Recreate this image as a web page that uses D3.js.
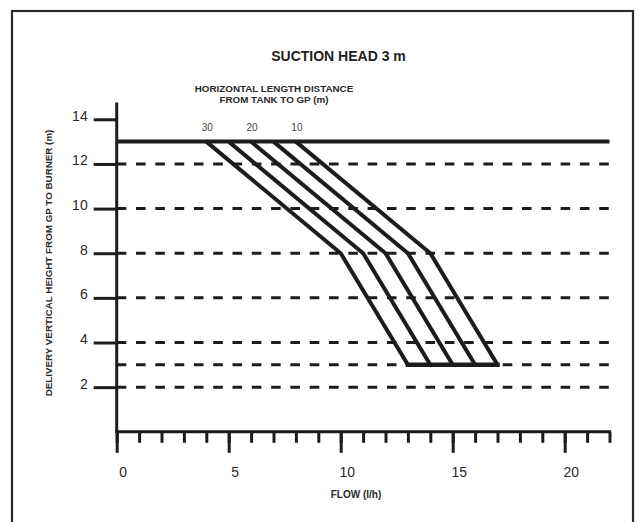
<!DOCTYPE html>
<html>
<head>
<meta charset="utf-8">
<script src="https://cdn.jsdelivr.net/npm/d3@7"></script>
<style>
  html, body { margin: 0; padding: 0; background: #fff; }
  svg { display: block; font-family: "Liberation Sans", Arial, sans-serif; }
</style>
</head>
<body>
<svg id="chart" width="641" height="522"></svg>
<script>
// ---- data ----
const title = "SUCTION HEAD 3 m";
const xTitle = "FLOW (l/h)";
const yTitle = "DELIVERY VERTICAL HEIGHT FROM GP TO BURNER (m)";
const legendTitle = ["HORIZONTAL LENGTH DISTANCE", "FROM TANK TO GP (m)"];
const distances = [30, 25, 20, 15, 10];          // horizontal length (m), one curve each
const distanceLabels = ["30", "", "20", "", "10"];
const curveHeights = [13, 8, 3];                  // delivery height (m) at each vertex
const flowAtTop = [4, 5, 6, 7, 8];                // flow (l/h) at 13 m
const flowAtKnee = [10, 11, 12, 13, 14];          // flow (l/h) at 8 m
const flowAtBase = [13, 14, 15, 16, 17];          // flow (l/h) at 3 m
const solidHeight = 13;
const dashedHeights = [12, 10, 8, 6, 4, 3, 2];
const yTickValues = [2, 4, 6, 8, 10, 12, 14];
const xMajorTicks = [0, 5, 10, 15, 20];
const xMinorTicks = d3.range(0, 23);
const xDomain = [0, 22];
const yDomain = [0, 14];

// ---- drawing ----
const svg = d3.select("#chart");
const ink = "#1c1c1c";
const textCol = "#2a2a2a";

// frame
svg.append("rect").attr("x", 12).attr("y", 11).attr("width", 621).attr("height", 530)
  .attr("fill", "none").attr("stroke", "#2a2a2a").attr("stroke-width", 2.2);

const x = d3.scaleLinear().domain(xDomain).range([116.7, 609.5]);
const y = d3.scaleLinear().domain(yDomain).range([431.8, 119.3]);

// dashed grid lines
svg.append("g").selectAll("line").data(dashedHeights).join("line")
  .attr("x1", x(0)).attr("x2", x(22))
  .attr("y1", d => y(d)).attr("y2", d => y(d))
  .attr("stroke", ink).attr("stroke-width", 3).attr("stroke-dasharray", "9.6,9.7");

// solid line at 13 m
svg.append("line").attr("x1", x(0)).attr("x2", x(22))
  .attr("y1", y(solidHeight)).attr("y2", y(solidHeight))
  .attr("stroke", ink).attr("stroke-width", 4);

// x axis: minor ticks
const xMinor = d3.axisBottom(x).tickValues(xMinorTicks).tickSize(11).tickFormat("");
const gxMinor = svg.append("g").attr("transform", `translate(0,${y(0)})`).call(xMinor);
gxMinor.select(".domain").remove();
gxMinor.selectAll("line").attr("stroke", ink).attr("stroke-width", 3);

// x axis: major ticks with labels
const xMajor = d3.axisBottom(x).tickValues(xMajorTicks).tickSize(21).tickPadding(14).tickFormat(d3.format("d"));
const gxMajor = svg.append("g").attr("transform", `translate(0,${y(0)})`).call(xMajor);
gxMajor.select(".domain").remove();
gxMajor.selectAll("line").attr("stroke", ink).attr("stroke-width", 3);
gxMajor.selectAll("text").attr("font-size", 14).attr("fill", textCol)
  .attr("font-family", "'Liberation Sans', Arial, sans-serif").attr("dx", 6);

// x axis line
svg.append("line").attr("x1", x(0)).attr("x2", x(22)).attr("y1", y(0)).attr("y2", y(0))
  .attr("stroke", ink).attr("stroke-width", 3).attr("stroke-linecap", "square");

// y axis
const yAxis = d3.axisLeft(y).tickValues(yTickValues).tickSize(23).tickPadding(6).tickFormat(d3.format("d"));
const gy = svg.append("g").attr("transform", `translate(${x(0)},0)`).call(yAxis);
gy.select(".domain").remove();
gy.selectAll("line").attr("stroke", ink).attr("stroke-width", 3);
gy.selectAll("text").attr("font-size", 14).attr("fill", textCol)
  .attr("font-family", "'Liberation Sans', Arial, sans-serif").attr("dy", "0.07em");

// y axis line
svg.append("line").attr("x1", x(0)).attr("x2", x(0)).attr("y1", y(14.75)).attr("y2", y(0))
  .attr("stroke", ink).attr("stroke-width", 3);

// curves
const curves = distances.map((d, i) => ({
  dist: d,
  label: distanceLabels[i],
  pts: [flowAtTop[i], flowAtKnee[i], flowAtBase[i]].map((f, j) => [f, curveHeights[j]])
}));
const line = d3.line().x(d => x(d[0])).y(d => y(d[1]));
svg.append("g").selectAll("path").data(curves).join("path")
  .attr("d", c => line(c.pts))
  .attr("fill", "none").attr("stroke", ink).attr("stroke-width", 4)
  .attr("stroke-linejoin", "miter");

// base segment joining curve ends at 3 m
svg.append("path")
  .attr("d", line([[d3.min(flowAtBase), curveHeights[2]], [d3.max(flowAtBase), curveHeights[2]]]))
  .attr("fill", "none").attr("stroke", ink).attr("stroke-width", 4.5).attr("stroke-linecap", "square");

// curve labels
svg.append("g").selectAll("text").data(curves.filter(c => c.label)).join("text")
  .attr("x", c => x(c.pts[0][0]) + 1).attr("y", 130.7)
  .attr("text-anchor", "middle").attr("font-size", 10).attr("fill", "#444")
  .text(c => c.label);

// titles
svg.append("text").attr("x", 338.5).attr("y", 60.7).attr("text-anchor", "middle")
  .attr("font-size", 14).attr("font-weight", "bold").attr("fill", "#222").text(title);

svg.append("g").selectAll("text").data(legendTitle).join("text")
  .attr("x", 274).attr("y", (d, i) => 91.7 + i * 11.6).attr("text-anchor", "middle")
  .attr("font-size", 9.8).attr("font-weight", "bold").attr("fill", textCol).text(d => d);

svg.append("text").attr("x", 356).attr("y", 497.7).attr("text-anchor", "middle")
  .attr("font-size", 10).attr("font-weight", "bold").attr("fill", textCol).text(xTitle);

svg.append("text").attr("transform", "translate(51.5,263) rotate(-90)").attr("text-anchor", "middle")
  .attr("font-size", 9.8).attr("font-weight", "bold").attr("fill", textCol).text(yTitle);
</script>
</body>
</html>
